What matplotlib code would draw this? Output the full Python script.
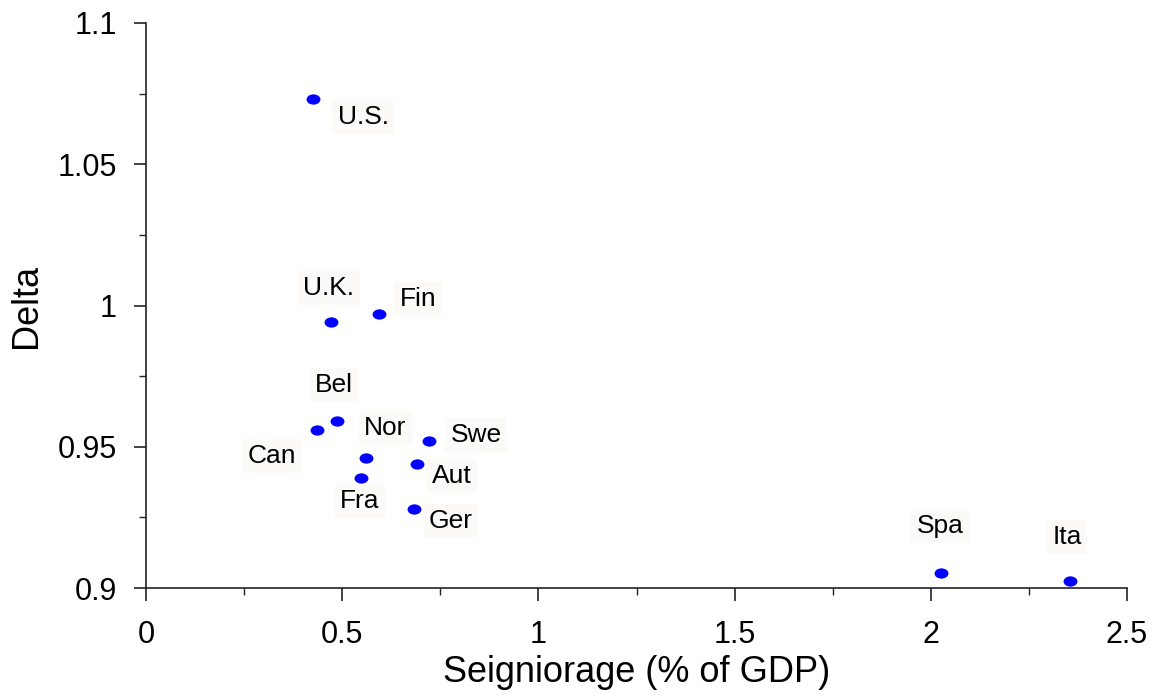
import matplotlib
matplotlib.use("Agg")
import matplotlib.pyplot as plt
from matplotlib.path import Path
from matplotlib.transforms import Affine2D
from matplotlib.ticker import FixedLocator, MultipleLocator

countries = ["U.S.", "U.K.", "Fin", "Bel", "Can", "Nor", "Swe", "Aut", "Fra", "Ger", "Spa", "Ita"]
seigniorage = [0.426, 0.471, 0.594, 0.487, 0.436, 0.561, 0.721, 0.691, 0.548, 0.683, 2.026, 2.355]
delta = [1.0731, 0.9942, 0.997, 0.9591, 0.9559, 0.946, 0.952, 0.9439, 0.9389, 0.928, 0.9053, 0.9025]
# label offsets in pixels (dx, dy)
label_dx = [50, -2, 39, -3, -45, 19, 47, 35, -1, 37, -1, -3]
label_dy = [-18, 34, 15, 36, -26, 30, 6, -12, -23, -12, 47, 44]

xticks = [0, 0.5, 1, 1.5, 2, 2.5]
xticklabels = ["0", "0.5", "1", "1.5", "2", "2.5"]
yticks = [0.9, 0.95, 1.0, 1.05, 1.1]
yticklabels = ["0.9", "0.95", "1", "1.05", "1.1"]

plt.rcParams['font.family'] = ['Liberation Sans', 'DejaVu Sans']

fig = plt.figure(figsize=(11.53, 6.98), dpi=100)
ax = fig.add_axes([146/1153, 1-588/698, (1127-146)/1153, (588-23)/698])

ellipse = Path.unit_circle().transformed(Affine2D().scale(1.35, 1.0))
ax.plot(seigniorage, delta, linestyle='none', marker=ellipse, markersize=10,
        color='#0000ff', markeredgewidth=0, clip_on=False)

for name, x, y, dx, dy in zip(countries, seigniorage, delta, label_dx, label_dy):
    ax.annotate(name, (x, y), xytext=(dx, dy), textcoords='offset pixels',
                ha='center', va='center', fontsize=19, color='black',
                bbox=dict(boxstyle='square,pad=0.2', facecolor='#fbfaf7', edgecolor='none'))

ax.set_xlim(0, 2.5)
ax.set_ylim(0.9, 1.1)
ax.xaxis.set_major_locator(FixedLocator(xticks))
ax.set_xticklabels(xticklabels)
ax.yaxis.set_major_locator(FixedLocator(yticks))
ax.set_yticklabels(yticklabels)
ax.xaxis.set_minor_locator(MultipleLocator(0.25))
ax.yaxis.set_minor_locator(MultipleLocator(0.025))

for s in ['top', 'right']:
    ax.spines[s].set_visible(False)
for s in ['left', 'bottom']:
    ax.spines[s].set_linewidth(1.2)
    ax.spines[s].set_color('#222222')

ax.tick_params(which='major', direction='out', length=9, width=1.2, labelsize=22, color='#222222')
ax.tick_params(axis='y', which='major', pad=12)
ax.tick_params(axis='x', which='major', pad=14)
ax.tick_params(which='minor', direction='out', length=5, width=1.0, color='#222222')

ax.set_xlabel("Seigniorage (% of GDP)", fontsize=26, labelpad=4)
ax.set_ylabel("Delta", fontsize=26, labelpad=10)

fig.savefig("out.png", dpi=100)
